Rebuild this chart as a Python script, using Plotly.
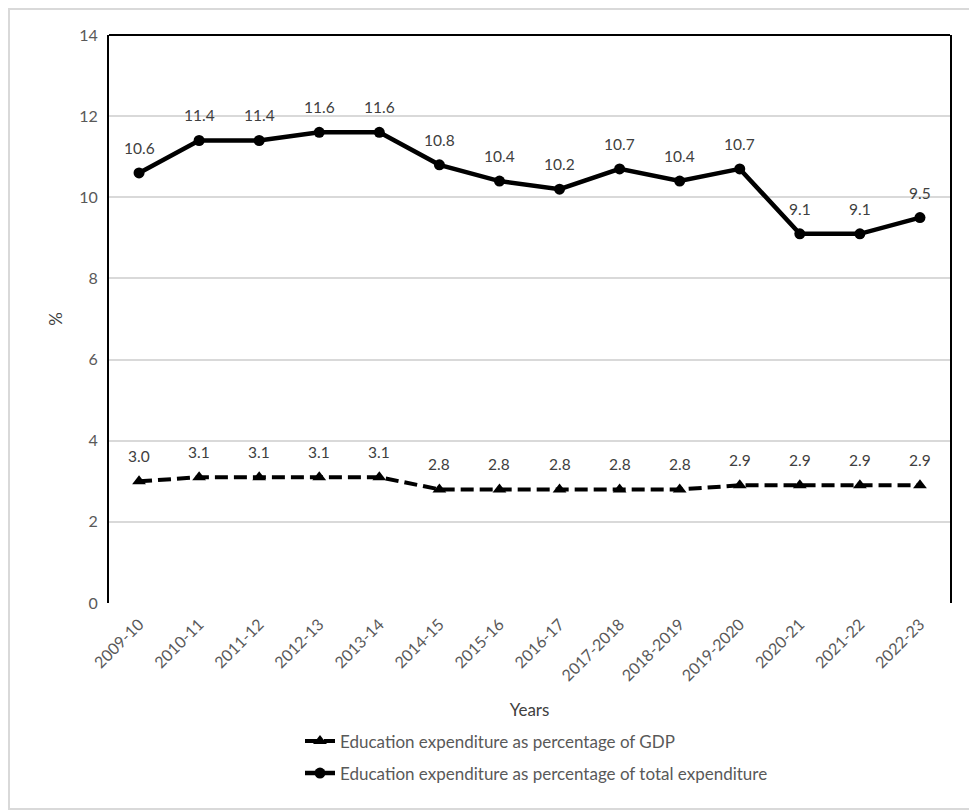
import plotly.graph_objects as go

years = ["2009-10", "2010-11", "2011-12", "2012-13", "2013-14", "2014-15", "2015-16",
         "2016-17", "2017-2018", "2018-2019", "2019-2020", "2020-21", "2021-22", "2022-23"]
pct_gdp = [3.0, 3.1, 3.1, 3.1, 3.1, 2.8, 2.8, 2.8, 2.8, 2.8, 2.9, 2.9, 2.9, 2.9]
pct_total = [10.6, 11.4, 11.4, 11.6, 11.6, 10.8, 10.4, 10.2, 10.7, 10.4, 10.7, 9.1, 9.1, 9.5]

FONT = "Lato"
GREY = "#595959"

fig = go.Figure()
fig.add_trace(go.Scatter(
    x=years, y=pct_gdp, mode="lines+markers",
    name="Education expenditure as percentage of GDP",
    line=dict(color="black", width=4, dash="13px,6px"),
    marker=dict(symbol="triangle-up", size=12, color="black"),
    legendgroup="a",
))
fig.add_trace(go.Scatter(
    x=years, y=pct_total, mode="lines+markers",
    name="Education expenditure as percentage of total expenditure",
    line=dict(color="black", width=4.5),
    marker=dict(symbol="circle", size=11, color="black"),
    legendgroup="b",
))

# data labels above the points
for series in (pct_gdp, pct_total):
    for yr, v in zip(years, series):
        fig.add_annotation(x=yr, y=v, text=f"{v:.1f}", showarrow=False,
                           yshift=25, font=dict(family=FONT, size=15.5, color="#404040"))

# page has an 8px body margin, margins below compensate for it
fig.update_layout(
    width=977, height=812,
    margin=dict(l=101, r=35, t=27, b=217),
    paper_bgcolor="white", plot_bgcolor="white",
    font=dict(family=FONT, size=14, color=GREY),
    showlegend=True,
    legend=dict(orientation="v", x=(300 - 109) / 841, xanchor="left",
                y=-0.212, yanchor="top",
                font=dict(family=FONT, size=17, color=GREY), tracegroupgap=7),
    shapes=[
        dict(type="line", xref="paper", yref="paper", x0=0, x1=1, y0=1, y1=1,
             line=dict(color="black", width=2)),
        dict(type="rect", xref="paper", yref="paper",
             x0=(9 - 109) / 841, x1=(975 - 109) / 841,
             y0=(603 - 809) / 568, y1=(603 - 9) / 568,
             line=dict(color="#d9d9d9", width=2)),
    ],
)
fig.update_xaxes(
    type="category", range=[-0.5, 13.5], tickangle=-45, showgrid=False, ticks="",
    tickfont=dict(family=FONT, size=16, color=GREY), ticklabelstandoff=8,
    title=dict(text="Years", font=dict(family=FONT, size=17, color="#404040"), standoff=20),
)
fig.update_yaxes(
    range=[0, 14], dtick=2, showgrid=True, gridcolor="#d9d9d9", gridwidth=1.5,
    showline=True, linecolor="black", linewidth=2, mirror=True, zeroline=False,
    tickfont=dict(family=FONT, size=16, color=GREY), ticklabelstandoff=6,
    title=dict(text="%", font=dict(family=FONT, size=17, color="#404040"), standoff=12),
)

fig.write_html("out.html")
